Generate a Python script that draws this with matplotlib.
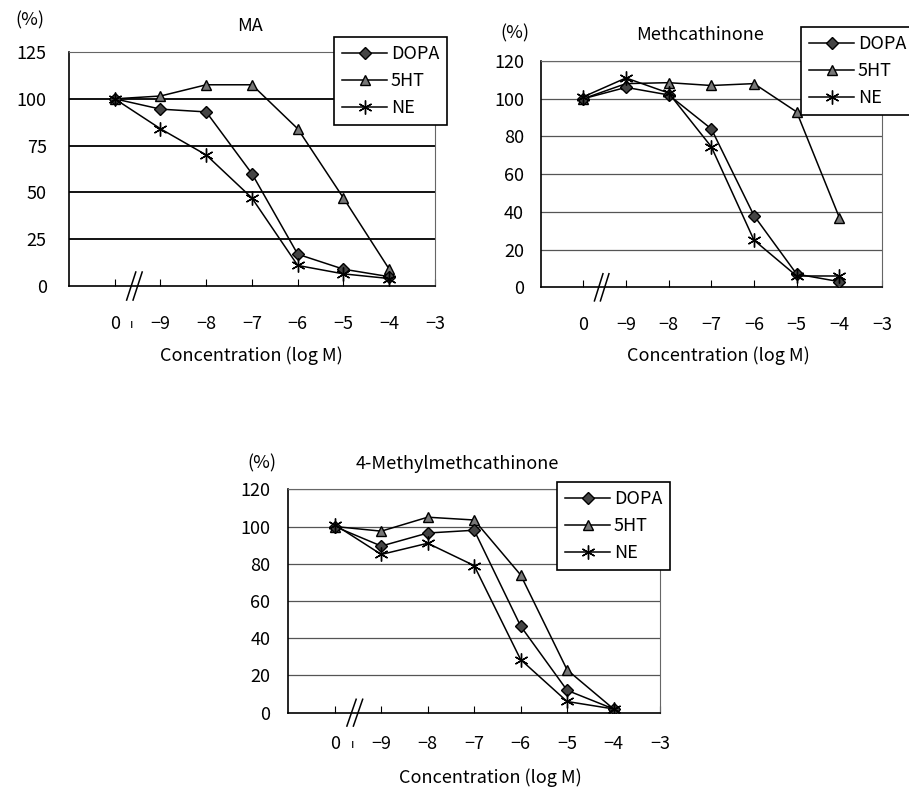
import matplotlib
matplotlib.use("Agg")
import matplotlib.pyplot as plt

plt.rcParams['font.family'] = ['Noto Sans CJK JP', 'DejaVu Sans']

xlabels = ['0', '\u22129', '\u22128', '\u22127', '\u22126', '\u22125', '\u22124', '\u22123']
xpos = [1, 2, 3, 4, 5, 6, 7]

ma_dopa = [100, 94.5, 93, 60, 17, 9, 5]
ma_5ht = [100, 101.5, 107.5, 107.5, 84, 47, 9]
ma_ne = [100, 84, 70, 47, 11, 6.5, 4]

mc_dopa = [100, 106, 102, 84, 38, 7, 3]
mc_5ht = [100, 108, 108.5, 107, 108, 93, 37]
mc_ne = [101, 111, 103, 74.5, 25, 6, 6]

mm_dopa = [100, 89.5, 96.5, 98, 46.5, 12, 2]
mm_5ht = [100, 97.5, 105, 103.5, 74, 23, 2]
mm_ne = [101, 85, 91, 79, 28.5, 6, 2]

series_names = ['DOPA', '5HT', 'NE']
fs = 13

fig = plt.figure(figsize=(9.09, 7.93), dpi=100)


def px(x, y):
    return x / 909, 1 - y / 793


def panel(rect, title, dopa, sht, ne, ymax, ystep, grid_col, grid_lw,
          title_xy, pct_xy, xlab_xy, leg_xy, tick_mark, xpad, ypad):
    ax = fig.add_axes(rect)
    ax.plot(xpos, dopa, color='black', lw=1.1, marker='D', ms=6.5,
            mfc='#444444', mec='black', label=series_names[0], zorder=4)
    ax.plot(xpos, sht, color='black', lw=1.1, marker='^', ms=7.5,
            mfc='#777777', mec='black', label=series_names[1], zorder=3)
    ax.plot(xpos, ne, color='black', lw=1.1, marker=(6, 2, 0), ms=10,
            mec='black', mew=1.0, label=series_names[2], zorder=5)
    ax.set_xlim(0, 8)
    ax.set_ylim(0, ymax)
    yt = list(range(0, ymax + 1, ystep))
    ax.set_yticks(yt)
    ax.set_yticklabels([str(v) for v in yt], fontsize=fs)
    ax.set_xticks(range(1, 9))
    ax.set_xticklabels(xlabels, fontsize=fs)
    ax.tick_params(axis='x', direction='in', length=5, pad=xpad, color='black')
    ax.tick_params(axis='y', length=0, pad=ypad)
    if tick_mark:
        ax.set_xticks([1.38], labels=['\u0131'], minor=True)
        ax.tick_params(axis='x', which='minor', length=0, pad=xpad + 2, labelsize=9)
    for yv in yt[1:]:
        ax.axhline(yv, color=grid_col, lw=grid_lw, zorder=1)
    for s in ['top', 'right']:
        ax.spines[s].set_color('#666666')
        ax.spines[s].set_linewidth(0.8)
    for s in ['left', 'bottom']:
        ax.spines[s].set_color('black')
        ax.spines[s].set_linewidth(1.2)
    # axis break mark
    for dx in (-0.07, 0.07):
        ax.plot([1.33 + dx, 1.53 + dx], [-0.06, 0.06], transform=ax.get_xaxis_transform(),
                color='black', lw=1.1, clip_on=False)
    fig.text(*px(*title_xy), title, ha='center', va='center', fontsize=fs)
    fig.text(*px(*pct_xy), '(%)', ha='center', va='center', fontsize=fs)
    fig.text(*px(*xlab_xy), 'Concentration (log M)', ha='center', va='center', fontsize=fs)
    leg = ax.legend(loc='upper left', bbox_to_anchor=px(*leg_xy), bbox_transform=fig.transFigure,
                    fontsize=fs, frameon=True, fancybox=False, framealpha=1,
                    edgecolor='black', handlelength=2.5, labelspacing=0.5,
                    borderpad=0.45, handletextpad=0.2, borderaxespad=0)
    leg.get_frame().set_linewidth(1.2)
    return ax


panel([0.0759, 0.6393, 0.4026, 0.2951], 'MA', ma_dopa, ma_5ht, ma_ne, 125, 25,
      'black', 1.3, (250, 26), (30, 20), (251, 356), (334, 37), True, 21, 16)
panel([0.5948, 0.6377, 0.3755, 0.2854], 'Methcathinone', mc_dopa, mc_5ht, mc_ne, 120, 20,
      '#555555', 0.9, (700, 35), (515, 33), (718, 356), (801, 27), False, 21, 12)
panel([0.3172, 0.1013, 0.4089, 0.2817], '4-Methylmethcathinone', mm_dopa, mm_5ht, mm_ne, 120, 20,
      '#555555', 0.9, (457, 464), (262, 463), (490, 778), (557, 482), True, 16, 13)

fig.savefig('out.png', dpi=100)
